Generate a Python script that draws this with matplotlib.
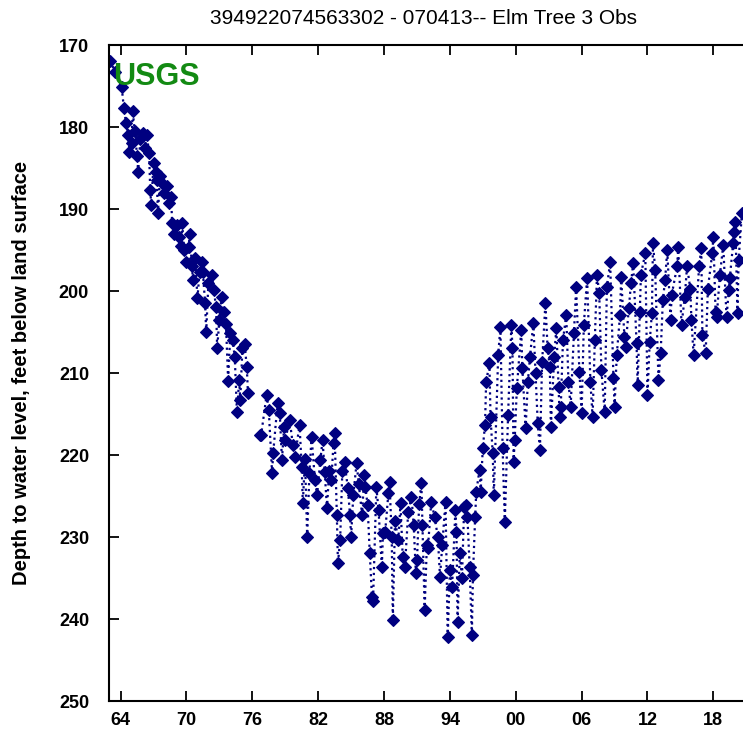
import matplotlib
matplotlib.use("Agg")
from matplotlib import pyplot as plt

# site hydrograph, decimal year vs depth to water (ft below land surface)
dates_early = [1963.06, 1963.5, 1964.1, 1964.3, 1964.5, 1964.7, 1964.8, 1965.0, 1965.1, 1965.3,
               1965.5, 1965.6, 1965.8, 1966.0, 1966.2, 1966.4, 1966.6, 1966.7, 1966.8, 1967.0,
               1967.2, 1967.3, 1967.4, 1967.6, 1967.8, 1968.0, 1968.2, 1968.4, 1968.6, 1968.7,
               1968.9, 1969.1, 1969.3, 1969.5, 1969.6, 1969.8, 1970.0, 1970.2, 1970.3, 1970.5,
               1970.6, 1970.8, 1971.0, 1971.2, 1971.4, 1971.5, 1971.7, 1971.8, 1972.0, 1972.3,
               1972.5, 1972.7, 1972.8, 1973.0, 1973.2, 1973.4, 1973.6, 1973.8, 1974.0, 1974.2,
               1974.4, 1974.6, 1974.8, 1974.9, 1975.1, 1975.3, 1975.5, 1975.6]
depth_early = [171.9, 173.3, 175.1, 177.7, 179.5, 181.0, 183.0, 182.0, 178.1, 180.5,
               183.5, 185.5, 181.5, 180.7, 182.5, 181.0, 183.2, 187.7, 189.5, 184.4,
               185.5, 186.5, 190.5, 186.0, 186.8, 188.0, 187.2, 189.3, 188.5, 191.7,
               193.0, 192.0, 193.4, 194.5, 191.7, 195.0, 196.5, 194.6, 193.0, 197.0,
               198.7, 196.0, 200.9, 197.7, 196.5, 197.7, 201.5, 205.0, 199.0, 198.0,
               199.9, 202.0, 207.0, 203.5, 200.7, 202.5, 204.0, 211.0, 205.1, 206.0,
               208.0, 214.8, 210.9, 213.3, 207.0, 206.5, 209.3, 212.4]

dates_late = [1976.7, 1976.8, 1977.3, 1977.5, 1977.8, 1977.9, 1978.3, 1978.5, 1978.7, 1978.9,
              1979.0, 1979.4, 1979.7, 1979.9, 1980.3, 1980.5, 1980.6, 1980.8, 1981.0, 1981.2,
              1981.4, 1981.7, 1981.9, 1982.2, 1982.4, 1982.6, 1982.8, 1983.0, 1983.2, 1983.4,
              1983.5, 1983.7, 1983.8, 1984.0, 1984.2, 1984.4, 1984.7, 1984.9, 1985.0, 1985.2,
              1985.5, 1985.7, 1986.0, 1986.2, 1986.3, 1986.5, 1986.7, 1986.9, 1987.0, 1987.3,
              1987.5, 1987.8, 1987.9, 1988.1, 1988.4, 1988.5, 1988.7, 1988.8, 1989.0, 1989.3,
              1989.5, 1989.7, 1989.9, 1990.2, 1990.5, 1990.7, 1990.9, 1991.0, 1991.2, 1991.4,
              1991.5, 1991.7, 1991.9, 1992.0, 1992.3, 1992.6, 1992.9, 1993.1, 1993.3, 1993.6,
              1993.8, 1994.0, 1994.2, 1994.5, 1994.6, 1994.7, 1994.9, 1995.1, 1995.3, 1995.5,
              1995.6, 1995.8, 1996.0, 1996.1, 1996.3, 1996.4, 1996.7, 1996.8, 1997.0, 1997.2,
              1997.3, 1997.6, 1997.7, 1997.9, 1998.0, 1998.4, 1998.6, 1998.8, 1999.0, 1999.3,
              1999.6, 1999.7, 1999.8, 1999.9, 2000.1, 2000.5, 2000.6, 2000.9, 2001.1, 2001.3,
              2001.6, 2001.8, 2002.0, 2002.2, 2002.4, 2002.7, 2002.9, 2003.1, 2003.2, 2003.5,
              2003.7, 2003.9, 2004.0, 2004.1, 2004.3, 2004.6, 2004.8, 2005.0, 2005.3, 2005.5,
              2005.8, 2006.0, 2006.2, 2006.5, 2006.8, 2007.0, 2007.2, 2007.4, 2007.6, 2007.8,
              2008.1, 2008.3, 2008.6, 2008.9, 2009.0, 2009.2, 2009.5, 2009.6, 2009.9, 2010.0,
              2010.3, 2010.5, 2010.7, 2011.0, 2011.1, 2011.3, 2011.4, 2011.8, 2012.0, 2012.2,
              2012.4, 2012.5, 2012.7, 2013.0, 2013.2, 2013.4, 2013.6, 2013.8, 2014.1, 2014.2,
              2014.7, 2014.8, 2015.1, 2015.4, 2015.6, 2015.9, 2016.0, 2016.2, 2016.7, 2016.9,
              2017.0, 2017.3, 2017.5, 2017.9, 2018.0, 2018.2, 2018.3, 2018.6, 2018.9, 2019.2,
              2019.4, 2019.5, 2019.8, 2019.9, 2020.0, 2020.2, 2020.3, 2020.6]
depth_late = [217.6, 217.6, 212.7, 214.5, 222.2, 219.8, 213.7, 214.9, 220.6, 216.6,
              218.2, 215.7, 218.8, 220.2, 216.3, 221.5, 225.9, 220.5, 230.0, 222.2,
              217.8, 223.0, 224.9, 220.6, 218.2, 222.1, 226.5, 222.0, 223.0, 218.5,
              217.3, 227.3, 233.2, 230.4, 222.0, 220.9, 224.0, 227.3, 230.0, 224.9,
              221.0, 223.5, 227.3, 222.4, 223.9, 226.1, 232.0, 237.3, 237.8, 223.9,
              226.7, 233.7, 229.5, 229.4, 224.6, 223.3, 230.0, 240.1, 228.0, 230.4,
              225.9, 232.4, 233.7, 227.0, 225.1, 228.5, 234.4, 232.8, 226.0, 223.4,
              228.5, 238.9, 231.0, 231.3, 225.7, 227.5, 230.0, 234.9, 231.0, 225.7,
              242.2, 234.0, 236.1, 226.7, 229.4, 240.4, 232.0, 235.0, 226.3, 226.1,
              227.6, 233.7, 241.9, 234.6, 227.6, 224.5, 221.8, 224.5, 219.1, 216.3,
              211.1, 208.8, 215.4, 219.8, 224.9, 207.8, 204.4, 219.1, 228.2, 215.1,
              204.1, 207.0, 220.9, 218.2, 211.8, 204.8, 209.4, 216.7, 211.1, 208.0,
              203.9, 210.0, 216.1, 219.4, 208.7, 201.5, 207.0, 209.3, 216.6, 208.0,
              204.5, 211.7, 215.4, 214.1, 206.0, 202.9, 211.1, 214.1, 205.1, 199.5,
              209.9, 214.9, 204.1, 198.4, 211.1, 215.4, 206.0, 198.0, 200.2, 209.6,
              214.8, 199.5, 196.5, 210.6, 214.1, 207.8, 202.9, 198.3, 205.6, 206.8,
              202.1, 199.0, 196.6, 206.3, 211.5, 202.6, 198.0, 195.4, 212.7, 206.2,
              202.7, 194.2, 197.4, 210.9, 207.5, 201.1, 198.7, 195.0, 203.5, 200.5,
              197.0, 194.6, 204.1, 200.7, 197.0, 199.7, 203.5, 207.8, 197.0, 194.8,
              205.4, 207.6, 199.7, 195.4, 193.4, 202.6, 203.2, 198.0, 194.4, 203.2,
              199.9, 198.4, 194.1, 192.8, 191.6, 202.7, 196.2, 190.5]

year_ticks = [1964, 1970, 1976, 1982, 1988, 1994, 2000, 2006, 2012, 2018]
year_labels = ["64", "70", "76", "82", "88", "94", "00", "06", "12", "18"]
depth_ticks = [170, 180, 190, 200, 210, 220, 230, 240, 250]

plt.rcParams['font.family'] = ['Liberation Sans Narrow', 'Liberation Sans', 'DejaVu Sans']

fig = plt.figure(figsize=(7.43, 7.34), dpi=100)
ax = fig.add_axes([108.5 / 743, 1 - 701 / 734, 1 - 108.5 / 743, 656 / 734])

navy = "#000080"
for d, v in [(dates_early, depth_early), (dates_late, depth_late)]:
    ax.plot(d, v, linestyle=":", linewidth=1.6, color=navy, marker="D",
            markersize=6.3, markeredgewidth=0.8, markerfacecolor=navy, markeredgecolor=navy)

ax.set_xlim(1962.9, 2020.7)
ax.set_ylim(250, 170)
ax.set_xticks(year_ticks)
ax.set_xticklabels(year_labels)
ax.set_yticks(depth_ticks)

ax.spines["right"].set_visible(False)
for s in ["left", "top", "bottom"]:
    ax.spines[s].set_linewidth(1.5)
ax.tick_params(axis="x", direction="in", length=7, width=1.3, top=True, pad=8, labelsize=13)
ax.tick_params(axis="y", direction="in", length=7, width=1.3, pad=14, labelsize=13)
for lab in ax.get_xticklabels() + ax.get_yticklabels():
    lab.set_fontweight("bold")

ax.set_title("394922074563302 - 070413-- Elm Tree 3 Obs", fontsize=15,
             family=['Liberation Sans', 'DejaVu Sans'], pad=15, x=(423 - 108.5) / 634.5)
ax.set_ylabel("Depth to water level, feet below land surface", fontsize=14.5, fontweight="bold",
              family=['Liberation Sans', 'DejaVu Sans'], labelpad=20)
ax.text(0.007, 0.974, "USGS", transform=ax.transAxes, ha="left", va="top",
        fontsize=22, fontweight="bold", color="#138a13", family=['Liberation Sans', 'DejaVu Sans'])

fig.savefig("out.png", dpi=100)
